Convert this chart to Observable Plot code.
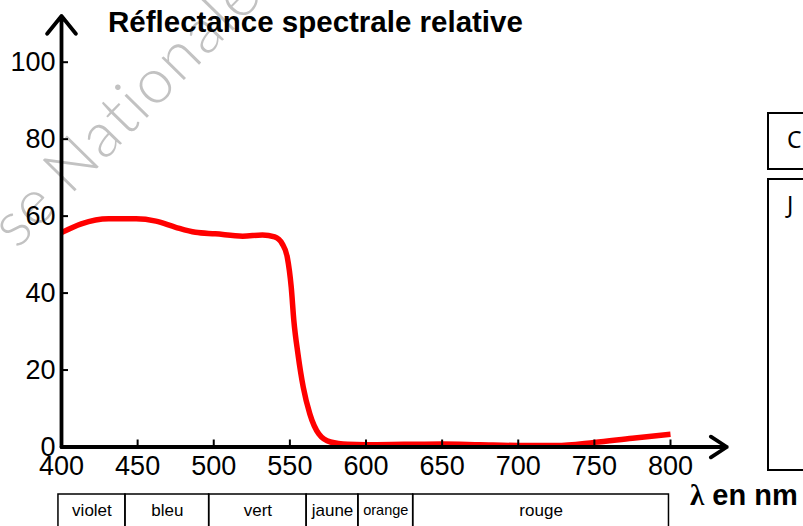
<!DOCTYPE html>
<html><head><meta charset="utf-8">
<script src="https://cdn.jsdelivr.net/npm/d3@7"></script>
<script src="https://cdn.jsdelivr.net/npm/@observablehq/plot@0.6"></script>
<style>
html,body{margin:0;padding:0;background:#fff;width:803px;height:526px;overflow:hidden;}
#wrap{position:relative;width:803px;height:526px;font-family:Arial,"Liberation Sans",sans-serif;color:#000;}
#wm{position:absolute;left:0;top:0;z-index:0;}
#main{position:absolute;left:0;top:0;z-index:1;}
#bands{position:absolute;left:0;top:492px;z-index:1;}
#title{position:absolute;left:108px;top:7px;font-weight:bold;font-size:29.5px;line-height:1;white-space:nowrap;z-index:2;}
#xlabel{position:absolute;left:690px;top:480.5px;font-weight:bold;font-size:29px;line-height:1;white-space:nowrap;z-index:2;}
#xlabel .lam{font-family:"Liberation Serif","DejaVu Serif",serif;font-weight:bold;}
.box{position:absolute;left:767px;width:60px;border:2px solid #000;box-sizing:border-box;z-index:2;font-family:"Noto Sans","Open Sans",sans-serif;font-size:23px;line-height:1;}
.box span{position:absolute;left:18px;}
</style>
</head><body>
<div id="wrap">
  <svg id="wm" width="803" height="526">
    <g transform="translate(70,196) rotate(-45.5)" font-family="Lato, 'DejaVu Sans', sans-serif" font-weight="300" font-size="63" fill="#c2c2c2">
      <text text-anchor="end" x="-16">se</text>
      <text x="0" letter-spacing="2">Nationale</text>
    </g>
  </svg>
  <div id="main"></div>
  <div id="bands"></div>
  <div id="title">Réflectance spectrale relative</div>
  <div id="xlabel"><span class="lam">λ</span> en nm</div>
  <div class="box" style="top:112px;height:58px;"><span style="top:14px;">C</span></div>
  <div class="box" style="top:178px;height:293px;"><span style="top:13px;">J</span></div>
</div>
<script>
// Data
const wavelength = [400,413,431,449,462,475,488,501,519,532,540,545,548.3,550.9,552.6,555.3,558.8,563.1,569,576.7,588,600,625,650,675,700,725,750,775,800];
const reflectance = [55.7,58.0,59.3,59.3,58.7,57.1,55.8,55.4,54.8,55.1,54.6,52.8,49.3,41.5,32.9,24.2,15.5,8.6,3.4,1.3,0.7,0.6,0.7,0.8,0.6,0.4,0.4,1.2,2.3,3.3];
const xTicks = [400,450,500,550,600,650,700,750,800];
const yTicks = [0,20,40,60,80,100];
const bandNames = ["violet","bleu","vert","jaune","orange","rouge"];
const bandEdges = [398,442,497,561,595,631,799];
const xAxisEnd = 837;
const yAxisEnd = 112;

const data = wavelength.map((w, i) => ({w, r: reflectance[i]}));
const bands = bandNames.map((name, i) => ({name, x1: bandEdges[i], x2: bandEdges[i + 1]}));

const font = "Arial, 'Liberation Sans', sans-serif";

const chart = Plot.plot({
  width: 803, height: 526,
  marginLeft: 61, marginRight: 133, marginTop: 61.7, marginBottom: 79.5,
  x: {domain: [400, 800]},
  y: {domain: [0, 100]},
  style: {background: "transparent", overflow: "visible", color: "black", fontFamily: font},
  marks: [
    Plot.line(data, {x: "w", y: "r", stroke: "#ff0000", strokeWidth: 5.5, curve: "monotone-x", strokeLinecap: "butt"}),
    Plot.axisY(yTicks, {tickSize: 0, tickPadding: 6, fontSize: 27, label: null}),
    Plot.axisY(yTicks, {tickSize: 7, fill: "none", dx: 7, strokeWidth: 2, label: null}),
    Plot.axisX(xTicks, {tickSize: 0, tickPadding: 9, fontSize: 27, label: null}),
    Plot.axisX(xTicks, {tickSize: 7, fill: "none", dy: -7, strokeWidth: 2, label: null}),
    Plot.arrow([{x1: 400, y1: 0, x2: xAxisEnd, y2: 0}], {x1: "x1", y1: "y1", x2: "x2", y2: "y2", stroke: "black", strokeWidth: 3.8, headAngle: 66, headLength: 7.5}),
    Plot.arrow([{x1: 400, y1: 0, x2: 400, y2: yAxisEnd}], {x1: "x1", y1: "y1", x2: "x2", y2: "y2", stroke: "black", strokeWidth: 3.8, headAngle: 78, headLength: 9})
  ]
});
document.getElementById("main").appendChild(chart);

const bandChart = Plot.plot({
  width: 803, height: 50,
  marginLeft: 61, marginRight: 133, marginTop: 2, marginBottom: 0,
  x: {domain: [400, 800], axis: null},
  y: {axis: null},
  style: {background: "transparent", overflow: "visible", color: "black", fontFamily: font},
  marks: [
    Plot.rect(bands, {x1: "x1", x2: "x2", fill: "none", stroke: "black", strokeWidth: 1.5}),
    Plot.text(bands, {x: d => (d.x1 + d.x2) / 2, frameAnchor: "top", lineAnchor: "middle", dy: 16, text: "name", fontSize: d => d.name === "orange" ? 14.5 : 17})
  ]
});
document.getElementById("bands").appendChild(bandChart);
</script>
</body></html>
